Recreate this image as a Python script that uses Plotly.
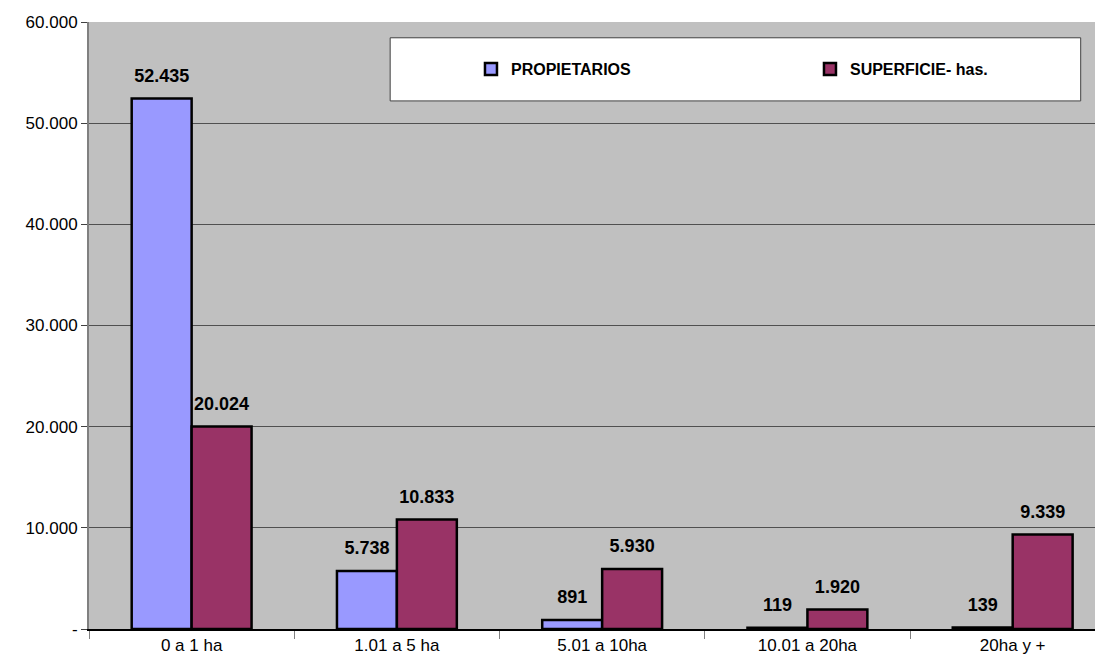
import plotly.graph_objects as go

categorias = ['0 a 1 ha', '1.01 a 5 ha', '5.01 a 10ha', '10.01 a 20ha', '20ha y +']
propietarios = [52435, 5738, 891, 119, 139]
superficie = [20024, 10833, 5930, 1920, 9339]

y_ticks = [0, 10000, 20000, 30000, 40000, 50000, 60000]
y_ticktext = ['-', '10.000', '20.000', '30.000', '40.000', '50.000', '60.000']

FONT = 'Liberation Sans, Arial, sans-serif'

fig = go.Figure()
fig.add_trace(go.Bar(x=categorias, y=propietarios, name='PROPIETARIOS',
                     marker=dict(color='#9999FF', line=dict(color='black', width=2.5))))
fig.add_trace(go.Bar(x=categorias, y=superficie, name='SUPERFICIE- has.',
                     marker=dict(color='#993366', line=dict(color='black', width=2.5))))
# linea vacia chica debajo para separar la etiqueta de la barra
fig.update_traces(texttemplate='<span style="font-size:18px">%{y:,}</span><br> ',
                  textposition='outside', cliponaxis=False,
                  textfont=dict(family=FONT, size=9, color='black', weight='bold'))

# caja blanca de la leyenda
fig.add_shape(type='rect', xref='paper', yref='paper', x0=0.297, x1=0.978, y0=0.870, y1=0.974,
              fillcolor='white', line=dict(color='#404040', width=1), layer='above')

fig.update_xaxes(range=[-0.5, 4.44], showline=True, linecolor='black', linewidth=1.5,
                 ticks='outside', tickson='boundaries', ticklen=8, tickcolor='#808080',
                 tickfont=dict(family=FONT, size=17, color='black'), showgrid=False)
fig.update_yaxes(range=[0, 60000], tickvals=y_ticks, ticktext=y_ticktext,
                 showline=True, linecolor='#808080', linewidth=2, ticks='outside', ticklen=6,
                 tickcolor='#404040', gridcolor='#505050', gridwidth=1,
                 tickfont=dict(family=FONT, size=17, color='black'), zeroline=False)
# la página tiene 8px de margen en el body: el gráfico se achica para caber
fig.update_layout(width=1095, height=654, margin=dict(l=81, r=0, t=14, b=33, autoexpand=False),
                  plot_bgcolor='#C0C0C0', paper_bgcolor='white', separators=',.',
                  barmode='group', bargap=0.416, bargroupgap=0,
                  showlegend=True,
                  legend=dict(orientation='h', x=0.3767, y=0.9226, xanchor='left', yanchor='middle',
                              bgcolor='rgba(0,0,0,0)', entrywidth=294,
                              font=dict(family=FONT, size=16, color='black', weight='bold')))
fig.write_html('out.html')
